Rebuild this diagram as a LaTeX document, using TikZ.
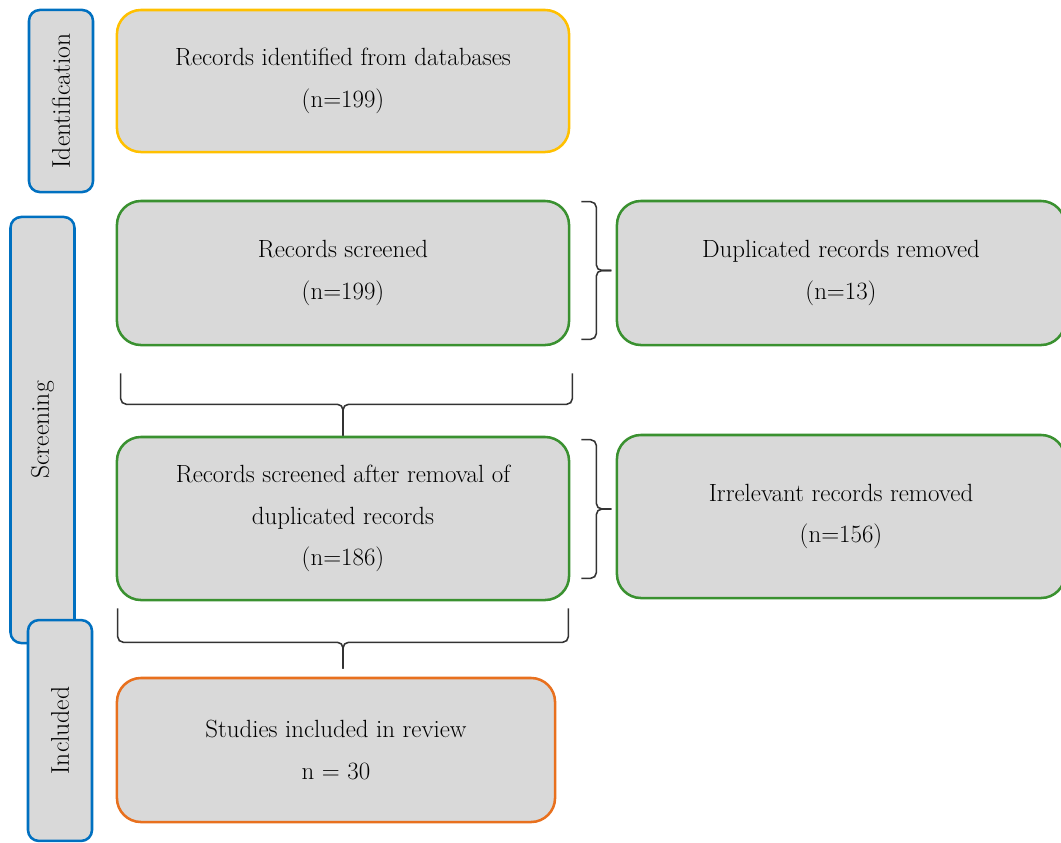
\documentclass[tikz,border=0pt]{standalone}
\usepackage{amsmath}
\usetikzlibrary{calc}

\definecolor{stageblue}{RGB}{0,112,192}
\definecolor{idyellow}{RGB}{255,192,0}
\definecolor{screengreen}{RGB}{58,145,48}
\definecolor{inclorange}{RGB}{232,112,30}
\definecolor{boxgray}{RGB}{217,217,217}

\begin{document}
\begin{tikzpicture}[x=0.025cm, y=-0.025cm,
    box/.style={draw, line width=1.8pt, fill=boxgray, rounded corners=0.6cm,
      align=center, font=\fontsize{17.7}{29.5}\selectfont, inner sep=0pt,
      minimum height=3.6cm},
    stage/.style={draw=stageblue, line width=1.8pt, fill=boxgray,
      rounded corners=0.27cm, rotate=90, minimum height=1.6cm,
      font=\fontsize{18.2}{20}\selectfont, inner sep=0pt},
    curly/.style={draw=black!80, line width=1.1pt, rounded corners=0.14cm}]
    \def \bw {11.3cm} % width of the left column boxes
    \def \rw {11.2cm} % width of the right column boxes
    \clip (0,0) rectangle (1061,843);

    % stages on the left
    \node[stage, minimum width=4.55cm] (ident) at (61,101) {Identification};
    \node[stage, minimum width=10.65cm] (screen) at (42.5,430) {Screening};
    \node[stage, minimum width=5.52cm] (incl) at (60,730.5) {Included};

    % flow boxes
    \node[box, draw=idyellow, minimum width=\bw, minimum height=3.55cm] (found) at (343,81)
      {Records identified from databases\\(n=199)};
    \node[box, draw=screengreen, minimum width=\bw] (screened) at (343,273)
      {Records screened\\(n=199)};
    \node[box, draw=screengreen, minimum width=\rw] (dupl) at (841,273)
      {Duplicated records removed\\(n=13)};
    \node[box, draw=screengreen, minimum width=\bw, minimum height=4.075cm] (after) at (343,518.5)
      {Records screened after removal of\\duplicated records\\(n=186)};
    \node[box, draw=screengreen, minimum width=\rw, minimum height=4.075cm] (irrel) at (841,516.5)
      {Irrelevant records removed\\(n=156)};
    \node[box, draw=inclorange, minimum width=10.95cm] (studies) at (336,750)
      {Studies included in review\\n = 30};

    % braces to the right
    \coordinate (r1a) at ($(screened.north east)+(11,2)$);
    \coordinate (r1b) at ($(screened.south east)+(11,-7)$);
    \coordinate (r2a) at ($(after.north east)+(11,4)$);
    \coordinate (r2b) at ($(after.south east)+(11,-23)$);
    \foreach \t/\b in {r1a/r1b, r2a/r2b}
    {
      \coordinate (tip) at ($(\t)!.5!(\b)+(30,0)$);
      \draw[curly] (\t) -- ++(15,0) |- (tip);
      \draw[curly] (\b) -- ++(15,0) |- (tip);
    }

    % braces below
    \coordinate (d1l) at ($(screened.south west)+(5,27)$);
    \coordinate (d1r) at ($(screened.south east)+(2,27)$);
    \coordinate (d1t) at ($(after.north)+(0,0)$);
    \coordinate (d2l) at ($(after.south west)+(2,7)$);
    \coordinate (d2r) at ($(after.south east)+(-2,7)$);
    \coordinate (d2t) at ($(after.south |- studies.north)+(0,-8)$);
    \draw[curly] (d1l) -- ++(0,31) -| (d1t);
    \draw[curly] (d1r) -- ++(0,31) -| (d1t);
    \draw[curly] (d2l) -- ++(0,34) -| (d2t);
    \draw[curly] (d2r) -- ++(0,34) -| (d2t);
\end{tikzpicture}
\end{document}
